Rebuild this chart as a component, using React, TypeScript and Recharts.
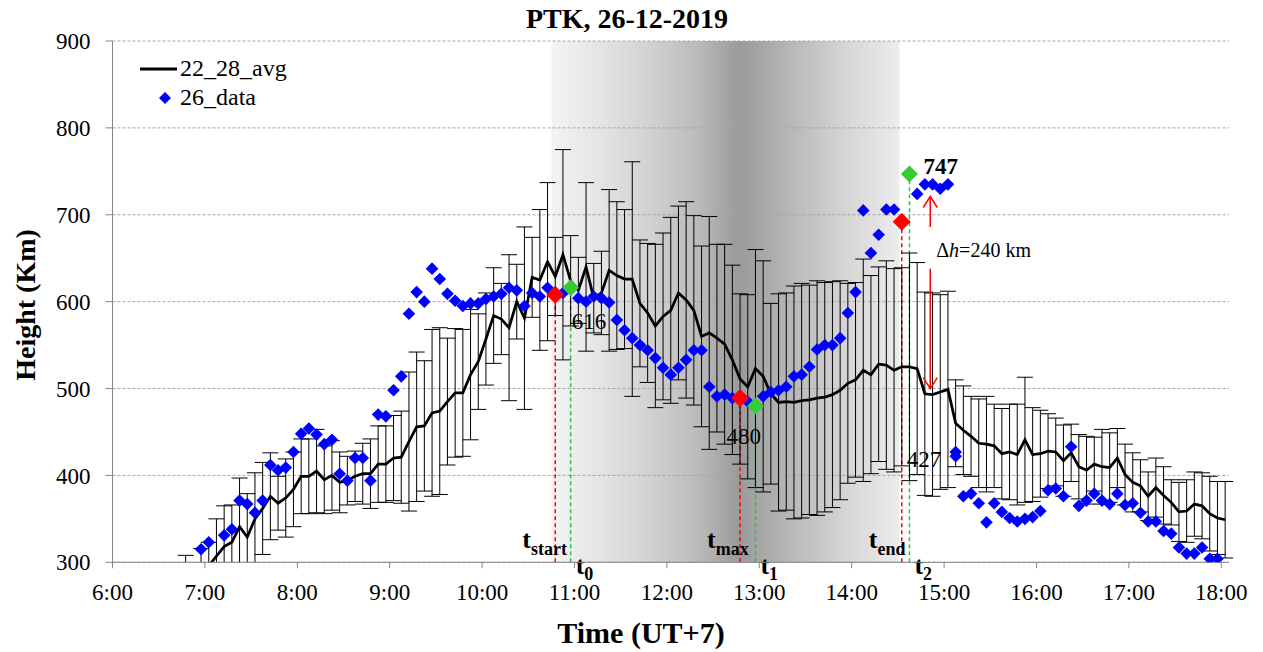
import React from 'react'
import {
  ComposedChart,
  Line,
  Scatter,
  XAxis,
  YAxis,
  CartesianGrid,
  ErrorBar,
  ReferenceArea,
  ReferenceLine,
  ReferenceDot,
} from 'recharts'

const FONT = '"Liberation Serif", "Times New Roman", serif'
const W = 1247
const H = 644
const PLOT = { left: 104.5, top: 33, right: 26, bottom: 89.7 }

// 5-minute bins, bin i is centred at 6:02.5 + 5*i (minutes of the day)
const binTime = (i: number) => 362.5 + 5 * i

// 22_28_avg: mean height and spread, starting at bin 9
const AVG_FIRST = 9
const avgHeight = [
  265, 276, 286, 296, 307, 318, 323, 341, 329, 350,
  362, 376, 368, 374, 384, 399, 399, 405, 395, 400,
  392, 394, 399, 402, 402, 413, 413, 420, 421, 439,
  456, 457, 472, 474, 485, 495, 495, 516, 531, 557,
  584, 580, 570, 600, 581, 628, 625, 646, 629, 654,
  624, 613, 640, 604, 610, 636, 630, 626, 626, 598,
  587, 572, 583, 590, 610, 602, 590, 560, 564, 558,
  551, 533, 511, 502, 523, 514, 494, 484, 485, 484,
  486, 487, 489, 490, 493, 498, 506, 510, 521, 516,
  528, 527, 521, 525, 525, 523, 494, 493, 496, 499,
  460, 452, 445, 437, 436, 434, 425, 427, 424, 441,
  424, 425, 428, 427, 417, 426, 410, 406, 413, 410,
  409, 420, 401, 392, 388, 376, 386, 377, 369, 358,
  359, 367, 365, 356, 351, 349,
]
const avgSpread = [
  43, 20, 30, 27, 43, 47, 43, 56, 50, 53,
  53, 50, 31, 45, 43, 43, 43, 48, 39, 40,
  35, 28, 29, 35, 40, 44, 44, 49, 53, 80,
  86, 75, 96, 96, 73, 74, 73, 75, 55, 53,
  55, 41, 84, 43, 105, 46, 81, 91, 45, 121,
  52, 38, 97, 40, 48, 93, 85, 80, 135, 73,
  80, 94, 96, 107, 100, 113, 109, 104, 134, 108,
  115, 109, 98, 106, 137, 133, 104, 125, 125, 134,
  135, 132, 135, 132, 130, 126, 115, 112, 128, 114,
  112, 120, 117, 114, 131, 122, 117, 117, 112, 113,
  50, 51, 46, 51, 55, 48, 52, 55, 58, 72,
  54, 50, 43, 39, 41, 33, 37, 39, 31, 43,
  40, 34, 35, 34, 30, 28, 34, 33, 26, 34,
  36, 37, 38, 43, 42, 44,
]

// 26_data, starting at bin 11 (null = no point / drawn as marker)
const DATA_FIRST = 11
const dayHeight: (number | null)[] = [
  315, 323, null, 331, 338, 371, 367, 357, 371, 412,
  406, 409, 427, 448, 454, 447, 436, 441, 402, 394,
  420, 420, 394, 470, 468, 498, 514, 586, 611, 600,
  638, 626, 609, 601, 595, 598, 598, 603, 606, 609,
  616, 613, 595, 610, 606, 616, null, 610, null, 604,
  600, 606, 604, 599, 579, 567, 558, 550, 544, 535,
  524, 516, 524, 533, 544, 544, 502, 491, 493, 489,
  null, 485, null, 491, 496, 498, 502, 514, 516, 525,
  545, 550, 550, 558, 587, 611, 705, 656, 677, 706,
  706, null, null, 724, 735, 735, 730, 735, 427, 376,
  379, 368, 346, 368, 358, 351, 347, 350, 352, 359,
  383, 385, 376, 433, 365, 371, 379, 371, 367, 379,
  366, 368, 357, 347, 347, 336, 333, 317, 310, 310,
  317, 304, 304,
]
const dayExtra = [{ bin: 109, h: 422 }]

// event markers
const redMarks = [
  { bin: 57, h: 608, sub: 'start' },
  { bin: 81, h: 489, sub: 'max' },
  { bin: 102, h: 692, sub: 'end' },
]
const greenMarks = [
  { bin: 59, h: 616, sub: '0', note: '616', ndx: 1, ndy: 41, bold: false },
  { bin: 83, h: 480, sub: '1', note: '480', ndx: -29, ndy: 38, bold: false },
  { bin: 103, h: 747, sub: '2', note: '747', ndx: 14, ndy: 0, bold: true },
]

const SHADE_FROM = 645
const SHADE_TO = 871
const ARROW_T = 891
const arrowParts = [
  { from: 686, to: 721 },
  { from: 638, to: 500 },
]

const yTicks = [300, 400, 500, 600, 700, 800, 900]
const hourTicks = [360, 420, 480, 540, 600, 660, 720, 780, 840, 900, 960, 1020, 1080]
const fmtHour = (m: number) => `${Math.floor(m / 60)}:00`

const avgRows = avgHeight.map((v, k) => ({
  t: binTime(AVG_FIRST + k),
  avg: v,
  err: avgSpread[k],
}))
const dayRows = dayHeight
  .map((v, k) => ({ t: binTime(DATA_FIRST + k), h: v }))
  .filter((r) => r.h !== null)
  .concat(dayExtra.map((d) => ({ t: binTime(d.bin), h: d.h })))
const redRows = redMarks.map((m) => ({ t: binTime(m.bin), h: m.h }))
const greenRows = greenMarks.map((m) => ({ t: binTime(m.bin), h: m.h }))

const diamond = (half: number, fill: string) => (p: any) => {
  const { cx, cy } = p
  if (cx == null || cy == null) return <g />
  return (
    <path
      d={`M${cx},${cy - half}L${cx + half},${cy}L${cx},${cy + half}L${cx - half},${cy}Z`}
      fill={fill}
    />
  )
}

const tLabel = (sub: string, dx: number, dy: number, subDy: number) => (props: any) => {
  const vb = props.viewBox || {}
  const x = vb.x + dx
  const y = vb.y + vb.height + dy
  return (
    <text x={x} y={y} fontFamily={FONT} fontWeight="bold" fontSize={26} fill="#000">
      t
      <tspan fontSize={18} dy={subDy}>
        {sub}
      </tspan>
    </text>
  )
}

const noteLabel = (text: string, dx: number, dy: number, bold: boolean) => (props: any) => {
  const vb = props.viewBox || {}
  return (
    <text
      x={vb.x + dx}
      y={vb.y + dy}
      fontFamily={FONT}
      fontSize={23}
      fontWeight={bold ? 'bold' : 'normal'}
      fill="#000"
    >
      {text}
    </text>
  )
}

const ArrowShape = (p: any) => {
  const { x1, y1, x2, y2 } = p
  const dir = y2 < y1 ? 1 : -1
  return (
    <g>
      <line x1={x1} y1={y1} x2={x2} y2={y2} stroke="#ff0000" strokeWidth={1.5} />
      <polyline
        points={`${x2 - 7},${y2 + dir * 11} ${x2},${y2} ${x2 + 7},${y2 + dir * 11}`}
        fill="none"
        stroke="#ff0000"
        strokeWidth={1.5}
      />
    </g>
  )
}

const LegendBox = () => (
  <div
    style={{
      position: 'absolute',
      left: 132,
      top: 46,
      fontFamily: FONT,
      fontSize: 24,
      lineHeight: '29px',
      color: '#000',
    }}
  >
    <div style={{ display: 'flex', alignItems: 'center' }}>
      <svg width={40} height={10}>
        <line x1={0} y1={5} x2={37} y2={5} stroke="#000" strokeWidth={3} />
      </svg>
      <span>22_28_avg</span>
    </div>
    <div style={{ display: 'flex', alignItems: 'center' }}>
      <svg width={40} height={14}>
        <path d="M25,1L31,7L25,13L19,7Z" fill="#0000ff" />
      </svg>
      <span>26_data</span>
    </div>
  </div>
)

export default function App() {
  return (
    <div style={{ position: 'relative', width: W, height: H }}>
      <style>{'.recharts-errorBars{clip-path:url(#plotClip)}'}</style>
      <ComposedChart
        width={W}
        height={H}
        margin={{ top: PLOT.top, right: PLOT.right, bottom: 0, left: 0 }}
      >
        <defs>
          <clipPath id="plotClip">
            <rect
              x={PLOT.left}
              y={PLOT.top - 5}
              width={W - PLOT.left - PLOT.right + 5}
              height={H - PLOT.top - PLOT.bottom + 5}
            />
          </clipPath>
          <linearGradient id="dayShade" x1="0" y1="0" x2="1" y2="0">
            <stop offset="0" stopColor="#f3f3f3" />
            <stop offset="0.14" stopColor="#e4e4e4" />
            <stop offset="0.28" stopColor="#d2d2d2" />
            <stop offset="0.42" stopColor="#bbbbbb" />
            <stop offset="0.54" stopColor="#9a9a9a" />
            <stop offset="0.6" stopColor="#a6a6a6" />
            <stop offset="0.71" stopColor="#bcbcbc" />
            <stop offset="0.85" stopColor="#d6d6d6" />
            <stop offset="1" stopColor="#ececec" />
          </linearGradient>
        </defs>
        <ReferenceArea
          x1={SHADE_FROM}
          x2={SHADE_TO}
          y1={300}
          y2={900}
          fill="url(#dayShade)"
          fillOpacity={1}
          stroke="none"
          zIndex={-200}
        />
        <CartesianGrid vertical={false} stroke="#a6a6a6" strokeDasharray="3 2" />
        <XAxis
          type="number"
          dataKey="t"
          domain={[360, 1085]}
          ticks={hourTicks}
          tickFormatter={fmtHour}
          height={PLOT.bottom}
          tickSize={6}
          tickMargin={15}
          axisLine={{ stroke: '#868686' }}
          tickLine={{ stroke: '#868686' }}
          tick={{ fill: '#000', fontSize: 23, fontFamily: FONT }}
          label={{
            content: () => (
              <text
                x={633}
                y={635}
                textAnchor="middle"
                fontFamily={FONT}
                fontWeight="bold"
                fontSize={30}
                fill="#000"
              >
                Time (UT+7)
              </text>
            ),
          }}
        />
        <YAxis
          type="number"
          domain={[300, 900]}
          ticks={yTicks}
          allowDataOverflow
          width={PLOT.left}
          tickSize={7}
          tickMargin={15}
          axisLine={{ stroke: '#868686' }}
          tickLine={{ stroke: '#868686' }}
          tick={{ fill: '#000', fontSize: 23, fontFamily: FONT }}
          label={{
            content: () => (
              <text
                x={27}
                y={297}
                transform="rotate(-90 27 297)"
                textAnchor="middle"
                fontFamily={FONT}
                fontWeight="bold"
                fontSize={28}
                fill="#000"
              >
                Height (Km)
              </text>
            ),
          }}
        />
        {redMarks.map((m) => (
          <ReferenceLine
            key={'r' + m.bin}
            segment={[
              { x: binTime(m.bin), y: 300 },
              { x: binTime(m.bin), y: m.h },
            ]}
            stroke="#ff0000"
            strokeWidth={1.5}
            strokeDasharray="4 3"
            label={tLabel(m.sub, -33, -14, 7)}
          />
        ))}
        {greenMarks.map((m) => (
          <ReferenceLine
            key={'g' + m.bin}
            segment={[
              { x: binTime(m.bin), y: 300 },
              { x: binTime(m.bin), y: m.h },
            ]}
            stroke="#2ebf4a"
            strokeWidth={1.5}
            strokeDasharray="4 3"
            label={tLabel(m.sub, 5, 12, 6)}
          />
        ))}
        <Line
          data={avgRows}
          dataKey="avg"
          stroke="#000"
          strokeWidth={2.75}
          dot={false}
          isAnimationActive={false}
        >
          <ErrorBar dataKey="err" direction="y" width={8} stroke="#000" strokeWidth={1} />
        </Line>
        <Scatter
          data={dayRows}
          dataKey="h"
          shape={diamond(6.3, '#0000ff')}
          isAnimationActive={false}
        />
        <Scatter
          data={redRows}
          dataKey="h"
          shape={diamond(9, '#ff0000')}
          isAnimationActive={false}
        />
        <Scatter
          data={greenRows}
          dataKey="h"
          shape={diamond(8.5, '#33cc33')}
          isAnimationActive={false}
        />
        {greenMarks.map((m) => (
          <ReferenceDot
            key={'n' + m.bin}
            x={binTime(m.bin)}
            y={m.h}
            r={0}
            fill="none"
            stroke="none"
            label={noteLabel(m.note, m.ndx, m.ndy, m.bold)}
          />
        ))}
        <ReferenceDot
          x={binTime(109)}
          y={427}
          r={0}
          fill="none"
          stroke="none"
          label={noteLabel('427', -49, 15, false)}
        />
        {arrowParts.map((a, k) => (
          <ReferenceLine
            key={'a' + k}
            segment={[
              { x: ARROW_T, y: a.from },
              { x: ARROW_T, y: a.to },
            ]}
            stroke="#ff0000"
            shape={ArrowShape}
          />
        ))}
        <ReferenceDot
          x={ARROW_T}
          y={651}
          r={0}
          fill="none"
          stroke="none"
          label={(props: any) => {
            const vb = props.viewBox || {}
            return (
              <text x={vb.x + 6} y={vb.y} fontFamily={FONT} fontSize={20} fill="#000">
                Δ<tspan fontStyle="italic">h</tspan>=240 km
              </text>
            )
          }}
        />
      </ComposedChart>
      <div
        style={{
          position: 'absolute',
          left: 0,
          top: -3,
          width: 1238,
          textAlign: 'center',
          fontFamily: FONT,
          fontWeight: 'bold',
          fontSize: 28,
          lineHeight: 1,
          color: '#000',
        }}
      >
        PTK, 26-12-2019
      </div>
      <LegendBox />
    </div>
  )
}
